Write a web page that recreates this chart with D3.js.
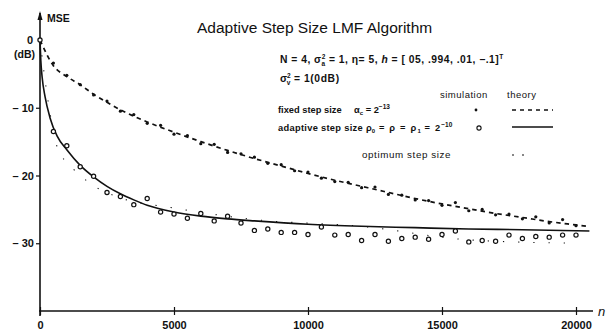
<!DOCTYPE html>
<html>
<head>
<meta charset="utf-8">
<script src="https://cdn.jsdelivr.net/npm/d3@7"></script>
<style>
  body { margin: 0; background: #fff; }
  svg { font-family: "Liberation Sans", Arial, sans-serif; }
</style>
</head>
<body>
<svg id="chart" width="611" height="332"></svg>
<script>
// tick values
const nTicks = [0, 5000, 10000, 15000, 20000];
const dbTicks = [0, -10, -20, -30];

// fixed step size, theory (dashed)
const fixedTheoryN  = [0, 500, 1000, 1500, 2000, 2500, 3000, 4000, 5000, 6000, 7000, 8000, 9000, 10000, 11000, 12000, 13000, 14000, 15000, 16000, 17000, 18000, 19000, 20000, 20400];
const fixedTheoryDb = [0, -3.8, -5.4, -6.6, -8.0, -9.2, -10.3, -12.1, -13.6, -15.0, -16.3, -17.5, -18.6, -19.7, -20.7, -21.6, -22.5, -23.4, -24.2, -24.9, -25.6, -26.2, -26.8, -27.3, -27.5];

// fixed step size, simulation (dots)
const fixedSimN  = [0, 500, 1000, 1500, 2000, 2500, 3000, 3500, 4000, 4500, 5000, 5500, 6000, 6500, 7000, 7500, 8000, 8500, 9000, 9500, 10000, 10500, 11000, 11500, 12000, 12500, 13000, 13500, 14000, 14500, 15000, 15500, 16000, 16500, 17000, 17500, 18000, 18500, 19000, 19500, 20000];
const fixedSimDb = [0, -3.4, -5.2, -6.6, -8.1, -9.0, -10.5, -11.0, -12.3, -12.6, -13.9, -14.1, -15.3, -15.4, -16.6, -16.8, -17.3, -18.2, -18.4, -19.3, -19.5, -20.4, -20.9, -21.0, -21.8, -21.7, -22.8, -22.9, -23.6, -23.7, -24.4, -24.0, -25.2, -25.0, -25.8, -25.7, -26.4, -26.1, -27.0, -26.5, -27.4];

// adaptive step size, theory (solid)
const adaptTheoryN  = [0, 30, 80, 190, 375, 640, 1000, 1500, 2000, 2500, 3000, 3500, 4000, 5000, 6000, 7000, 8000, 10000, 12000, 14000, 16000, 18000, 20500];
const adaptTheoryDb = [0, -3, -5.5, -8.4, -11.5, -14.2, -16.2, -18.5, -20.2, -21.6, -22.7, -23.6, -24.4, -25.4, -26.0, -26.4, -26.7, -27.2, -27.5, -27.7, -27.9, -28.0, -28.2];

// adaptive step size, simulation (open circles)
const adaptSimN  = [0, 500, 1000, 1500, 2000, 2500, 3000, 3500, 4000, 4500, 5000, 5500, 6000, 6500, 7000, 7500, 8000, 8500, 9000, 9500, 10000, 10500, 11000, 11500, 12000, 12500, 13000, 13500, 14000, 14500, 15000, 15500, 16000, 16500, 17000, 17500, 18000, 18500, 19000, 19500, 20000];
const adaptSimDb = [0, -13.5, -15.6, -18.7, -20.1, -22.5, -23.1, -24.3, -23.4, -25.4, -25.7, -26.3, -25.6, -26.7, -26.0, -27.0, -28.1, -27.9, -28.4, -28.4, -28.7, -27.6, -28.8, -28.7, -29.6, -28.7, -29.7, -29.3, -29.1, -29.4, -28.7, -28.2, -29.8, -29.6, -29.7, -28.8, -29.3, -29.0, -29.1, -28.8, -28.8];

// optimum step size, theory (sparse dots)
const optTheoryN  = [0, 300, 700, 1000, 2000, 3000, 5000, 8000, 12000, 16000, 20000];
const optTheoryDb = [0, -9, -16.5, -18, -21.5, -23.3, -24.8, -26.5, -27.5, -29.5, -30];

const svg = d3.select("#chart");

const x = d3.scaleLinear().domain([0, 20000]).range([40, 576]);
const y = d3.scaleLinear().domain([-40, 0]).range([311, 40]);

const ink = "#111";

// x axis
const xAxis = d3.axisBottom(x).tickValues(nTicks).tickSize(4).tickSizeOuter(0).tickFormat(d3.format("d"));
const xg = svg.append("g").attr("transform", `translate(0,${y(-40)})`).call(xAxis);
xg.select(".domain").remove();
xg.selectAll(".tick line").attr("y1", -4).attr("stroke", ink).attr("stroke-width", 1.2);
xg.selectAll(".tick text").attr("y", 10).attr("font-size", 11).attr("font-weight", "bold")
  .attr("fill", ink).attr("font-family", "Liberation Sans, Arial, sans-serif");
svg.append("line").attr("x1", x(0) - 1).attr("x2", x(20000) + 17)
  .attr("y1", y(-40)).attr("y2", y(-40)).attr("stroke", ink).attr("stroke-width", 1.4);
svg.append("text").attr("x", x(20000) + 22).attr("y", y(-40) + 5)
  .attr("font-size", 13).attr("font-style", "italic").attr("fill", ink).text("n");

// y axis
const yAxis = d3.axisLeft(y).tickValues(dbTicks.slice(1)).tickSize(4).tickSizeOuter(0)
  .tickFormat(d => "\u2013 " + Math.abs(d));
const yg = svg.append("g").attr("transform", `translate(${x(0)},0)`).call(yAxis);
yg.select(".domain").remove();
yg.selectAll(".tick line").attr("stroke", ink).attr("stroke-width", 1.2);
yg.selectAll(".tick text").attr("x", -6).attr("font-size", 11).attr("font-weight", "bold")
  .attr("fill", ink).attr("font-family", "Liberation Sans, Arial, sans-serif");
svg.append("line").attr("x1", x(0)).attr("x2", x(0))
  .attr("y1", y(-40) + 5).attr("y2", 13).attr("stroke", ink).attr("stroke-width", 1.6);
svg.append("path").attr("d", `M${x(0) - 2.5},20 L${x(0)},11 L${x(0) + 2.5},20 Z`).attr("fill", ink);
svg.append("text").attr("x", 47).attr("y", 22).attr("font-size", 10.5).attr("font-weight", "bold")
  .attr("fill", ink).text("MSE");
svg.append("text").attr("x", 33).attr("y", y(0) + 4).attr("text-anchor", "end").attr("font-size", 11)
  .attr("font-weight", "bold").attr("fill", ink).text("0");
svg.append("text").attr("x", 35).attr("y", y(0) + 18).attr("text-anchor", "end").attr("font-size", 10.5)
  .attr("font-weight", "bold").attr("fill", ink).text("(dB)");

// title
svg.append("text").attr("x", 197).attr("y", 33).attr("font-size", 15.5).attr("fill", ink)
  .text("Adaptive Step Size LMF Algorithm");

// curves
const line = d3.line().x(d => x(d[0])).y(d => y(d[1])).curve(d3.curveMonotoneX);

svg.append("path").datum(d3.zip(fixedTheoryN, fixedTheoryDb)).attr("d", line)
  .attr("fill", "none").attr("stroke", ink).attr("stroke-width", 1.7).attr("stroke-dasharray", "4.5,4");

svg.append("path").datum(d3.zip(optTheoryN, optTheoryDb)).attr("d", line)
  .attr("fill", "none").attr("stroke", ink).attr("stroke-width", 1.1).attr("stroke-dasharray", "1.2,14");

svg.append("path").datum(d3.zip(adaptTheoryN, adaptTheoryDb)).attr("d", line)
  .attr("fill", "none").attr("stroke", ink).attr("stroke-width", 1.6);

svg.append("g").selectAll("circle").data(d3.zip(fixedSimN, fixedSimDb)).join("circle")
  .attr("cx", d => x(d[0])).attr("cy", d => y(d[1])).attr("r", 1.6).attr("fill", ink);

svg.append("g").selectAll("circle").data(d3.zip(adaptSimN, adaptSimDb)).join("circle")
  .attr("cx", d => x(d[0])).attr("cy", d => y(d[1])).attr("r", 2.1)
  .attr("fill", "#fff").attr("stroke", ink).attr("stroke-width", 1.2);

// legend / annotation
const lg = svg.append("g").attr("fill", ink).attr("font-weight", "bold");

const p1 = lg.append("text").attr("x", 280).attr("y", 63).attr("font-size", 10.3).attr("letter-spacing", 0.5);
p1.append("tspan").text("N = 4, \u03c3");
p1.append("tspan").attr("font-size", 6.5).attr("dy", -4).text("2");
p1.append("tspan").attr("font-size", 6.5).attr("dx", -4.3).attr("dy", 7).text("a");
p1.append("tspan").attr("dy", -3).text(" = 1, \u03b7= 5, ");
p1.append("tspan").attr("font-style", "italic").text("h");
p1.append("tspan").text(" = [ 05, .994, .01, \u2212.1]");
p1.append("tspan").attr("font-size", 6.5).attr("dy", -4).text("T");

const p2 = lg.append("text").attr("x", 280).attr("y", 82).attr("font-size", 10.3);
p2.append("tspan").text("\u03c3");
p2.append("tspan").attr("font-size", 6.5).attr("dy", -4).text("2");
p2.append("tspan").attr("font-size", 6.5).attr("dx", -3.8).attr("dy", 7).text("v");
p2.append("tspan").attr("dy", -3).attr("letter-spacing", 0.6).text(" = 1(0dB)");

lg.append("text").attr("x", 440).attr("y", 98).attr("font-size", 9.5).attr("font-weight", "normal")
  .attr("letter-spacing", 0.5).text("simulation");
lg.append("text").attr("x", 507).attr("y", 98).attr("font-size", 9.5).attr("font-weight", "normal")
  .attr("letter-spacing", 0.5).text("theory");

const r1 = lg.append("text").attr("x", 278).attr("y", 113).attr("font-size", 9.3);
r1.append("tspan").text("fixed step size");
r1.append("tspan").attr("x", 354).text("\u03b1");
r1.append("tspan").attr("font-size", 6).attr("dy", 2).text("c");
r1.append("tspan").attr("dy", -2).text(" = 2");
r1.append("tspan").attr("font-size", 6.5).attr("dy", -4).text("\u221213");

const r2 = lg.append("text").attr("x", 278).attr("y", 131).attr("font-size", 9.3);
r2.append("tspan").attr("letter-spacing", 0.3).text("adaptive step size");
r2.append("tspan").attr("x", 366).text("\u03c1");
r2.append("tspan").attr("font-size", 6).attr("dy", 2).text("0");
r2.append("tspan").attr("dy", -2).attr("letter-spacing", 1.2).text(" = \u03c1 = \u03c1");
r2.append("tspan").attr("font-size", 6).attr("dy", 2).text("1");
r2.append("tspan").attr("dy", -2).attr("letter-spacing", 1.2).text(" = 2");
r2.append("tspan").attr("font-size", 6.5).attr("dy", -4).text("\u221210");

lg.append("text").attr("x", 362).attr("y", 158).attr("font-size", 9.8).attr("font-weight", "normal")
  .attr("letter-spacing", 0.6).text("optimum step size");

lg.append("circle").attr("cx", 476).attr("cy", 110).attr("r", 1.4);
lg.append("circle").attr("cx", 479).attr("cy", 128).attr("r", 2.1).attr("fill", "#fff")
  .attr("stroke", ink).attr("stroke-width", 1.1);
lg.append("line").attr("x1", 512).attr("x2", 553).attr("y1", 110).attr("y2", 110)
  .attr("stroke", ink).attr("stroke-width", 1.4).attr("stroke-dasharray", "4,4");
lg.append("line").attr("x1", 512).attr("x2", 553).attr("y1", 127).attr("y2", 127)
  .attr("stroke", ink).attr("stroke-width", 1.4);
lg.append("line").attr("x1", 512).attr("x2", 530).attr("y1", 155).attr("y2", 155)
  .attr("stroke", ink).attr("stroke-width", 1.2).attr("stroke-dasharray", "2,8");
</script>
</body>
</html>
